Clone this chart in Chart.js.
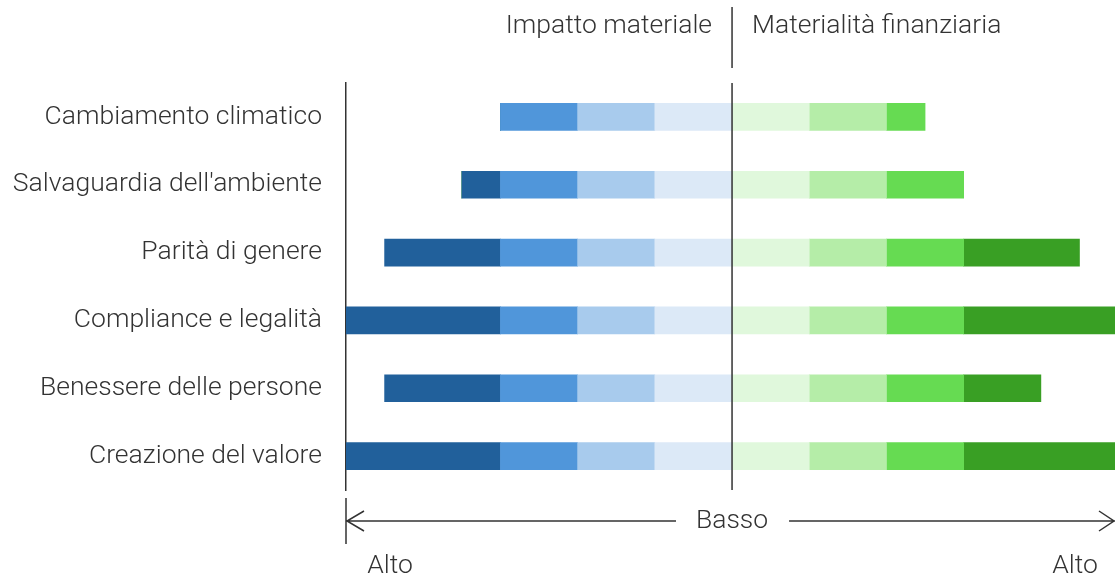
<!DOCTYPE html>
<html>
<head>
<meta charset="utf-8">
<script src="https://cdn.jsdelivr.net/npm/chart.js@4/dist/chart.umd.min.js"></script>
<style>
  html, body { margin: 0; padding: 0; background: #fff; overflow: hidden; }
  canvas { display: block; }
</style>
</head>
<body>
<canvas id="materialityChart" width="1115" height="578"></canvas>
<script>
// temi di materialità
var categories = ['Cambiamento climatico', "Salvaguardia dell'ambiente", 'Parità di genere',
                  'Compliance e legalità', 'Benessere delle persone', 'Creazione del valore'];

// impatto materiale (lato sinistro), dal centro verso l'esterno
var impatto1 = [1, 1, 1, 1, 1, 1];
var impatto2 = [1, 1, 1, 1, 1, 1];
var impatto3 = [1, 1, 1, 1, 1, 1];
var impatto4 = [0, 0.5, 1.5, 2, 1.5, 2];

// materialità finanziaria (lato destro)
var finanza1 = [1, 1, 1, 1, 1, 1];
var finanza2 = [1, 1, 1, 1, 1, 1];
var finanza3 = [0.5, 1, 1, 1, 1, 1];
var finanza4 = [0, 0, 1.5, 2, 1, 2];

var headerLabels = ['Impatto materiale', 'Materialità finanziaria'];
var scaleLabels = ['Alto', 'Basso', 'Alto'];

var blues = ['#dce9f7', '#a8cbed', '#5096da', '#21609b'];
var greens = ['#e0f8dc', '#b5eda8', '#66db52', '#399f24'];

var FAMILY = 'Roboto, "Liberation Sans", sans-serif';
var FONT = '300 26.5px ' + FAMILY;
var INK = '#333333';

function neg(arr) { return arr.map(function(v) { return -v; }); }

var datasets = [];
[impatto1, impatto2, impatto3, impatto4].forEach(function(arr, i) {
    datasets.push({ data: neg(arr), backgroundColor: blues[i], barThickness: 27, borderWidth: 0 });
});
[finanza1, finanza2, finanza3, finanza4].forEach(function(arr, i) {
    datasets.push({ data: arr, backgroundColor: greens[i], barThickness: 27, borderWidth: 0 });
});

var decorations = {
    id: 'decorations',
    afterDraw: function(chart) {
        var ctx = chart.ctx;
        var x = chart.scales.x;
        var area = chart.chartArea;
        var center = x.getPixelForValue(0);
        ctx.save();
        ctx.strokeStyle = INK;
        ctx.fillStyle = INK;
        ctx.lineWidth = 1.5;

        // linea centrale
        ctx.beginPath();
        ctx.moveTo(center, 7);
        ctx.lineTo(center, 68);
        ctx.moveTo(center, area.top);
        ctx.lineTo(center, area.bottom);
        ctx.stroke();

        // intestazioni
        ctx.font = FONT;
        ctx.textBaseline = 'middle';
        ctx.textAlign = 'right';
        ctx.fillText(headerLabels[0], center - 20, 26);
        ctx.textAlign = 'left';
        ctx.fillText(headerLabels[1], center + 20, 26);

        // freccia inferiore
        var y = area.bottom + 31;
        var left = area.left;
        var right = area.right;
        ctx.beginPath();
        ctx.moveTo(left, y - 23);
        ctx.lineTo(left, y + 23);
        ctx.moveTo(left + 1, y);
        ctx.lineTo(center - 56, y);
        ctx.moveTo(left + 18, y - 10);
        ctx.lineTo(left + 1, y);
        ctx.lineTo(left + 18, y + 10);
        ctx.moveTo(center + 57, y);
        ctx.lineTo(right, y);
        ctx.moveTo(right - 16, y - 10);
        ctx.lineTo(right - 1, y);
        ctx.lineTo(right - 16, y + 10);
        ctx.stroke();

        ctx.textAlign = 'center';
        ctx.fillText(scaleLabels[1], center, y);
        ctx.fillText(scaleLabels[0], left + 44, y + 45);
        ctx.fillText(scaleLabels[2], right - 40, y + 45);
        ctx.restore();
    }
};

new Chart(document.getElementById('materialityChart').getContext('2d'), {
    type: 'bar',
    data: { labels: categories, datasets: datasets },
    options: {
        indexAxis: 'y',
        responsive: false,
        animation: false,
        layout: { padding: { top: 83, bottom: 88, left: 0, right: 0 } },
        scales: {
            x: {
                stacked: true,
                min: -5,
                max: 4.96,
                display: false
            },
            y: {
                stacked: true,
                grid: { display: false, drawTicks: false },
                border: { display: true, color: INK, width: 1.5 },
                ticks: {
                    padding: 24,
                    color: INK,
                    font: { family: FAMILY, size: 26.5, weight: 300 }
                },
                afterFit: function(scale) { scale.width = 346; }
            }
        },
        plugins: {
            legend: { display: false },
            tooltip: { enabled: false }
        }
    },
    plugins: [decorations]
});
</script>
</body>
</html>
